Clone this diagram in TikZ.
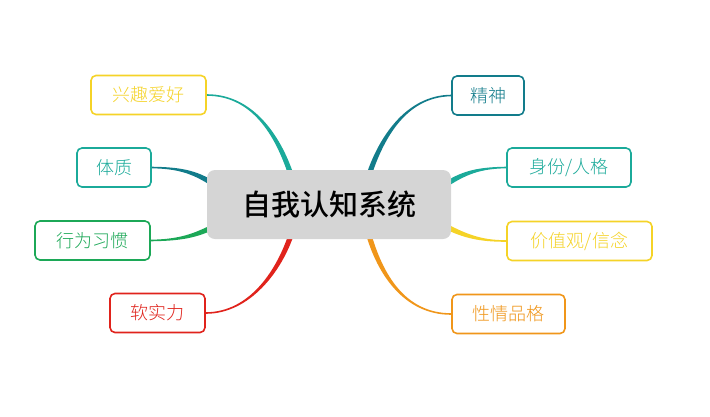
\documentclass[tikz,border=0pt]{standalone}
\usepackage{fontspec}
\newfontfamily\cjkm{Noto Sans CJK SC Medium}
\newfontfamily\cjkl{Noto Sans CJK SC Light}
\usetikzlibrary{calc,backgrounds}
\definecolor{cyel}{HTML}{F5D327}
\definecolor{cteal}{HTML}{1BAA9A}
\definecolor{cdteal}{HTML}{127C8B}
\definecolor{cgreen}{HTML}{1CA857}
\definecolor{cred}{HTML}{E0231C}
\definecolor{corange}{HTML}{F0961A}
\definecolor{cgray}{HTML}{D5D5D5}
\newcommand\mmtaper[5]{%
 \fill[#1] ($#2!0.8pt!90:#3$) .. controls ($#3!0.8pt!-90:#2$) and ($#4!2.6pt!90:#5$) .. ($#5!2.6pt!-90:#4$) -- ($#5!2.6pt!90:#4$) .. controls ($#4!2.6pt!-90:#5$) and ($#3!0.8pt!90:#2$) .. ($#2!0.8pt!-90:#3$) -- cycle;}
\tikzset{
 leaf/.style={draw=#1, text=#1, line width=1.6pt, rounded corners=5pt, fill=white,
   inner sep=0pt, minimum height=39pt, font=\cjkl\fontsize{18}{21}\selectfont},
 hub/.style={fill=cgray, rounded corners=8pt, minimum width=244pt, minimum height=69pt,
   inner sep=0pt, font=\cjkm\fontsize{29}{33}\selectfont, text=black}
}
\begin{document}
\begin{tikzpicture}[x=1pt,y=-1pt]
\useasboundingbox (0,0) rectangle (710,416);
\node[hub] (c) at (329,204.5) {自我认知系统};
\node[leaf=cyel, minimum width=115pt] (n1) at (148.5,95) {兴趣爱好};
\node[leaf=cteal, minimum width=74pt] (n2) at (114,167.5) {体质};
\node[leaf=cgreen, minimum width=115pt] (n3) at (92.5,240.5) {行为习惯};
\node[leaf=cred, minimum width=95pt] (n4) at (157.5,313) {软实力};
\node[leaf=cdteal, minimum width=72pt] (n5) at (488,95.5) {精神};
\node[leaf=cteal, minimum width=124pt] (n6) at (569,167.5) {身份/人格};
\node[leaf=cyel, minimum width=145pt] (n7) at (579.5,241) {价值观/信念};
\node[leaf=corange, minimum width=113pt] (n8) at (508.5,314) {性情品格};
\coordinate (e1) at (292,178);
\coordinate (e2) at (215,185);
\coordinate (e3) at (215,226);
\coordinate (e4) at (292,232);
\coordinate (e5) at (368,178);
\coordinate (e6) at (445,185);
\coordinate (e7) at (445,226);
\coordinate (e8) at (368,232);
\begin{scope}[on background layer]
\mmtaper{cteal}{(n1.east)}{(255,95)}{(280,140)}{(e1)}
\mmtaper{cdteal}{(n2.east)}{(180,168)}{(195,172)}{(e2)}
\mmtaper{cgreen}{(n3.east)}{(180,240)}{(195,236)}{(e3)}
\mmtaper{cred}{(n4.east)}{(250,313)}{(280,270)}{(e4)}
\mmtaper{cdteal}{(n5.west)}{(405,96)}{(380,140)}{(e5)}
\mmtaper{cteal}{(n6.west)}{(480,168)}{(465,172)}{(e6)}
\mmtaper{cyel}{(n7.west)}{(480,241)}{(465,236)}{(e7)}
\mmtaper{corange}{(n8.west)}{(405,314)}{(380,275)}{(e8)}
\end{scope}
\end{tikzpicture}
\end{document}
